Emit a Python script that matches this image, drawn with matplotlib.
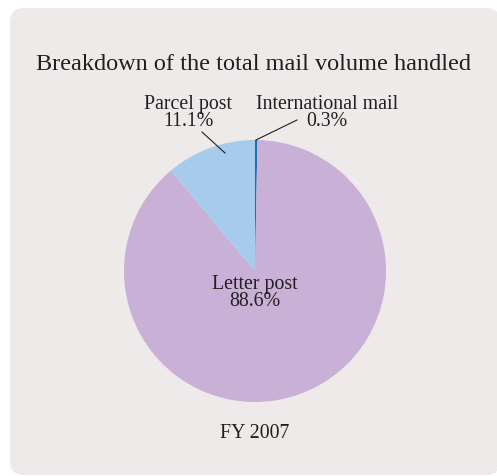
import matplotlib
matplotlib.use("Agg")
import matplotlib.pyplot as plt
from matplotlib.patches import FancyBboxPatch

# data (clockwise from 12 o'clock)
labels = ["International mail", "Letter post", "Parcel post"]
shares = [0.3, 88.6, 11.1]
colors = ["#1f6db5", "#c8b0d6", "#a6cbec"]
title = "Breakdown of the total mail volume handled"
year = "FY 2007"

W, H = 497, 476
plt.rcParams["font.family"] = ["Liberation Serif", "DejaVu Serif"]
fig = plt.figure(figsize=(W / 100, H / 100), dpi=100)
fig.patch.set_facecolor("white")
ax = fig.add_axes([0, 0, 1, 1])

def Y(y):  # pixel row from top -> axis y
    return H - y

ax.add_patch(FancyBboxPatch((10 + 14, Y(475) + 14), 500 - 10 - 28, 467 - 28,
                            boxstyle="round,pad=14", fc="#edeae9", ec="none"))

cx, cy, r = 255, 271, 131
ax.pie(shares, colors=colors, startangle=90, counterclock=False,
       center=(cx, Y(cy)), radius=r, wedgeprops=dict(linewidth=0))
ax.set_xlim(0, W); ax.set_ylim(0, H)
ax.set_aspect("equal"); ax.axis("off")

txt = dict(ha="center", va="center", color="#231f20")
ax.text(254, Y(65), title, fontsize=17.5, **txt)
ax.text(cx, Y(293), "Letter post\n88.6%", fontsize=14.3, linespacing=0.8, **txt)
ax.text(188, Y(113), "Parcel post\n11.1%", fontsize=14.3, linespacing=0.8, **txt)
ax.text(327, Y(113), "International mail\n0.3%", fontsize=14.3, linespacing=0.8, **txt)
ax.plot([202, 225], [Y(132), Y(153)], color="#231f20", lw=0.8)
ax.plot([297, 256], [Y(120), Y(140)], color="#231f20", lw=0.8)
ax.text(cx, Y(434), year, fontsize=14.3, **txt)

fig.savefig("out.png", dpi=100)
